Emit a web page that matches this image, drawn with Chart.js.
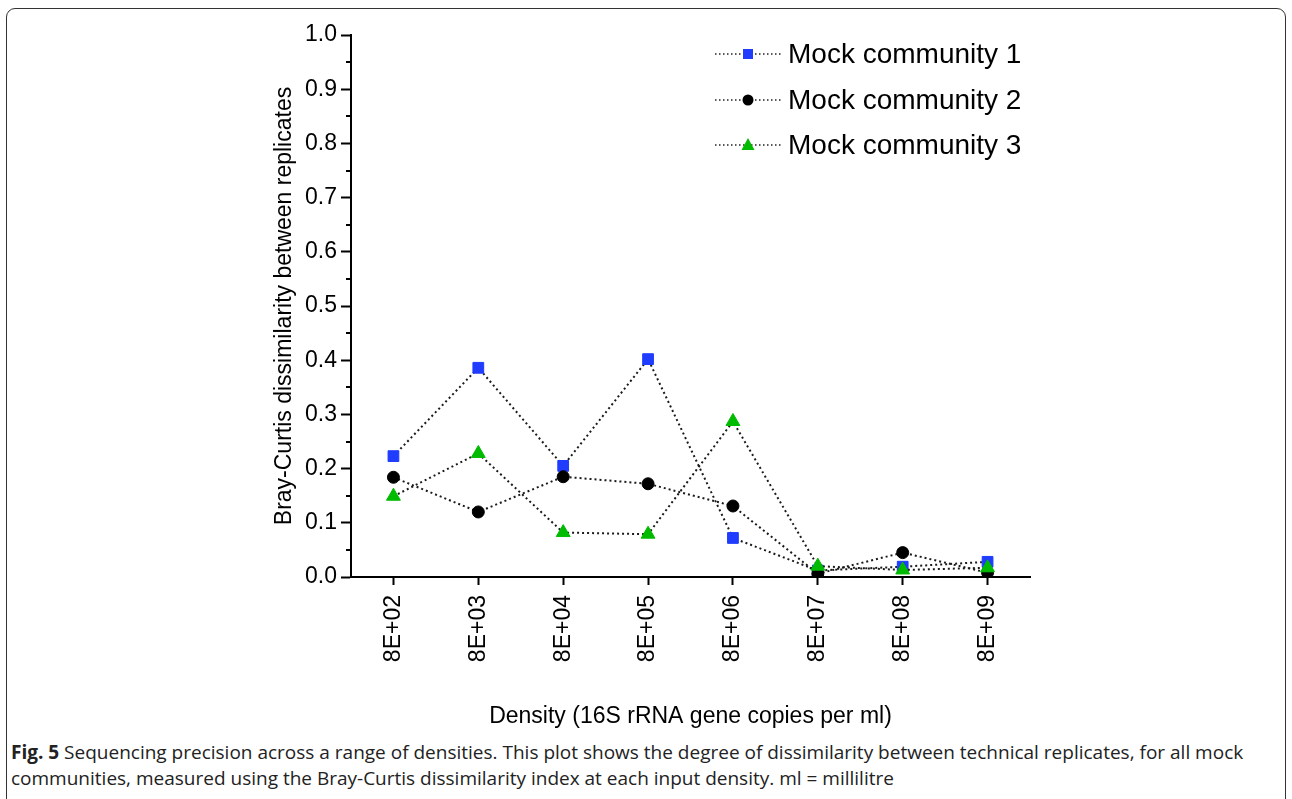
<!DOCTYPE html>
<html>
<head>
<meta charset="utf-8">
<script src="https://cdn.jsdelivr.net/npm/chart.js@4.4.1/dist/chart.umd.min.js"></script>
<style>
  html, body { margin: 0; padding: 0; background: #fff; }
  body { width: 1292px; height: 799px; position: relative; overflow: hidden; }
  #frame {
    position: absolute; left: 6px; top: 8px; width: 1280px; height: 800px;
    border: 1.6px solid #333; border-radius: 9px; box-sizing: border-box;
  }
  #wrap { position: absolute; left: 0; top: 0; width: 1292px; height: 733px; }
  #caption {
    position: absolute; left: 11px; top: 739px; width: 1275px;
    font-family: "Open Sans", sans-serif;
    font-size: 19px; line-height: 26px; color: #222; white-space: nowrap;
  }
  #caption b { font-weight: bold; }
</style>
</head>
<body>
<div id="frame"></div>
<div id="wrap"><canvas id="c" width="1292" height="733"></canvas></div>
<div id="caption"><b>Fig. 5</b> Sequencing precision across a range of densities. This plot shows the degree of dissimilarity between technical replicates, for all mock<br>communities, measured using the Bray-Curtis dissimilarity index at each input density. ml = millilitre</div>
<script>
// Input densities (16S rRNA gene copies per ml)
const densities = ['8E+02', '8E+03', '8E+04', '8E+05', '8E+06', '8E+07', '8E+08', '8E+09'];

// Bray-Curtis dissimilarity between technical replicates
const mock1 = [0.223, 0.386, 0.205, 0.402, 0.072, 0.012, 0.019, 0.028];
const mock2 = [0.184, 0.120, 0.185, 0.172, 0.131, 0.006, 0.045, 0.008];
const mock3 = [0.149, 0.228, 0.082, 0.079, 0.287, 0.020, 0.013, 0.017];

const seriesNames = ['Mock community 1', 'Mock community 2', 'Mock community 3'];

const yTicks = [0, 0.1, 0.2, 0.3, 0.4, 0.5, 0.6, 0.7, 0.8, 0.9, 1.0];

const BLUE = '#1f3cff';
const GREEN = '#00bb00';
const FONT = '"Liberation Sans", Arial, sans-serif';

function series(label, data, color, style, radius, order) {
  return {
    label, data, order,
    borderColor: '#1a1a1a',
    borderWidth: 2,
    borderDash: [2, 3],
    borderCapStyle: 'butt',
    fill: false,
    tension: 0,
    pointStyle: style,
    pointRadius: radius,
    pointHoverRadius: radius,
    pointBackgroundColor: color,
    pointBorderColor: color,
    pointBorderWidth: 1
  };
}

// small ticks halfway between the labelled ones on the y axis
const minorTicks = {
  id: 'minorTicks',
  afterDraw(chart) {
    const y = chart.scales.y;
    const ctx = chart.ctx;
    ctx.save();
    ctx.strokeStyle = '#000';
    ctx.lineWidth = 2;
    for (let i = 0; i < yTicks.length - 1; i++) {
      const v = (yTicks[i] + yTicks[i + 1]) / 2;
      const py = Math.round(y.getPixelForValue(v));
      ctx.beginPath();
      ctx.moveTo(y.right - 5, py);
      ctx.lineTo(y.right, py);
      ctx.stroke();
    }
    ctx.restore();
  }
};

// legend in the upper right of the plot: dotted sample line, marker, name
const insetLegend = {
  id: 'insetLegend',
  afterDraw(chart) {
    const ctx = chart.ctx;
    const x0 = 715, x1 = 781, xm = 748, xt = 788;
    const rows = [54, 100, 145];
    ctx.save();
    chart.data.datasets.forEach((ds, i) => {
      const yy = rows[i];
      ctx.strokeStyle = '#222';
      ctx.lineWidth = 1.3;
      ctx.setLineDash([1.5, 2.5]);
      ctx.beginPath();
      ctx.moveTo(x0, yy);
      ctx.lineTo(x1, yy);
      ctx.stroke();
      ctx.setLineDash([]);
      ctx.fillStyle = ds.pointBackgroundColor;
      ctx.beginPath();
      if (ds.pointStyle === 'rect') {
        ctx.rect(xm - 5, yy - 5, 10, 10);
      } else if (ds.pointStyle === 'circle') {
        ctx.arc(xm, yy, 5.5, 0, Math.PI * 2);
      } else {
        ctx.moveTo(xm, yy - 7);
        ctx.lineTo(xm + 6.5, yy + 5);
        ctx.lineTo(xm - 6.5, yy + 5);
        ctx.closePath();
      }
      ctx.fill();
      ctx.fillStyle = '#000';
      ctx.font = '28px ' + FONT;
      ctx.textAlign = 'left';
      ctx.textBaseline = 'middle';
      ctx.fillText(ds.label, xt, yy + 1);
    });
    ctx.restore();
  }
};

new Chart(document.getElementById('c'), {
  type: 'line',
  data: {
    labels: densities,
    datasets: [
      series(seriesNames[0], mock1, BLUE, 'rect', 7.6, 3),
      series(seriesNames[1], mock2, '#000', 'circle', 6, 2),
      series(seriesNames[2], mock3, GREEN, 'triangle', 8, 1)
    ]
  },
  options: {
    responsive: false,
    animation: false,
    events: [],
    layout: { padding: { left: 267, top: 35, right: 262, bottom: 0 } },
    plugins: {
      legend: { display: false },
      tooltip: { enabled: false }
    },
    scales: {
      x: {
        type: 'category',
        offset: true,
        grid: {
          drawOnChartArea: false,
          drawTicks: true,
          tickLength: 8,
          tickWidth: 2,
          tickColor: '#000',
          color: '#000'
        },
        border: { display: true, color: '#000', width: 2 },
        ticks: {
          color: '#000',
          font: { family: FONT, size: 23 },
          minRotation: 90,
          maxRotation: 90,
          autoSkip: false,
          padding: 10
        },
        title: {
          display: true,
          text: 'Density (16S rRNA gene copies per ml)',
          color: '#000',
          font: { family: FONT, size: 23 },
          padding: { top: 4, bottom: 3 }
        },
        afterFit(scale) { scale.height = 733 - 577; }
      },
      y: {
        min: 0,
        max: 1,
        afterBuildTicks(scale) { scale.ticks = yTicks.map(v => ({ value: v })); },
        grid: {
          drawOnChartArea: false,
          drawTicks: true,
          tickLength: 10,
          tickWidth: 2,
          tickColor: '#000',
          color: '#000'
        },
        border: { display: true, color: '#000', width: 2 },
        ticks: {
          color: '#000',
          font: { family: FONT, size: 23 },
          padding: 4,
          callback: v => Number(v).toFixed(1)
        },
        title: {
          display: true,
          text: 'Bray-Curtis dissimilarity between replicates',
          color: '#000',
          font: { family: FONT, size: 23 },
          padding: { top: 4, bottom: 4 }
        },
        afterFit(scale) { scale.width = 84; }
      }
    }
  },
  plugins: [minorTicks, insetLegend]
});
</script>
</body>
</html>
